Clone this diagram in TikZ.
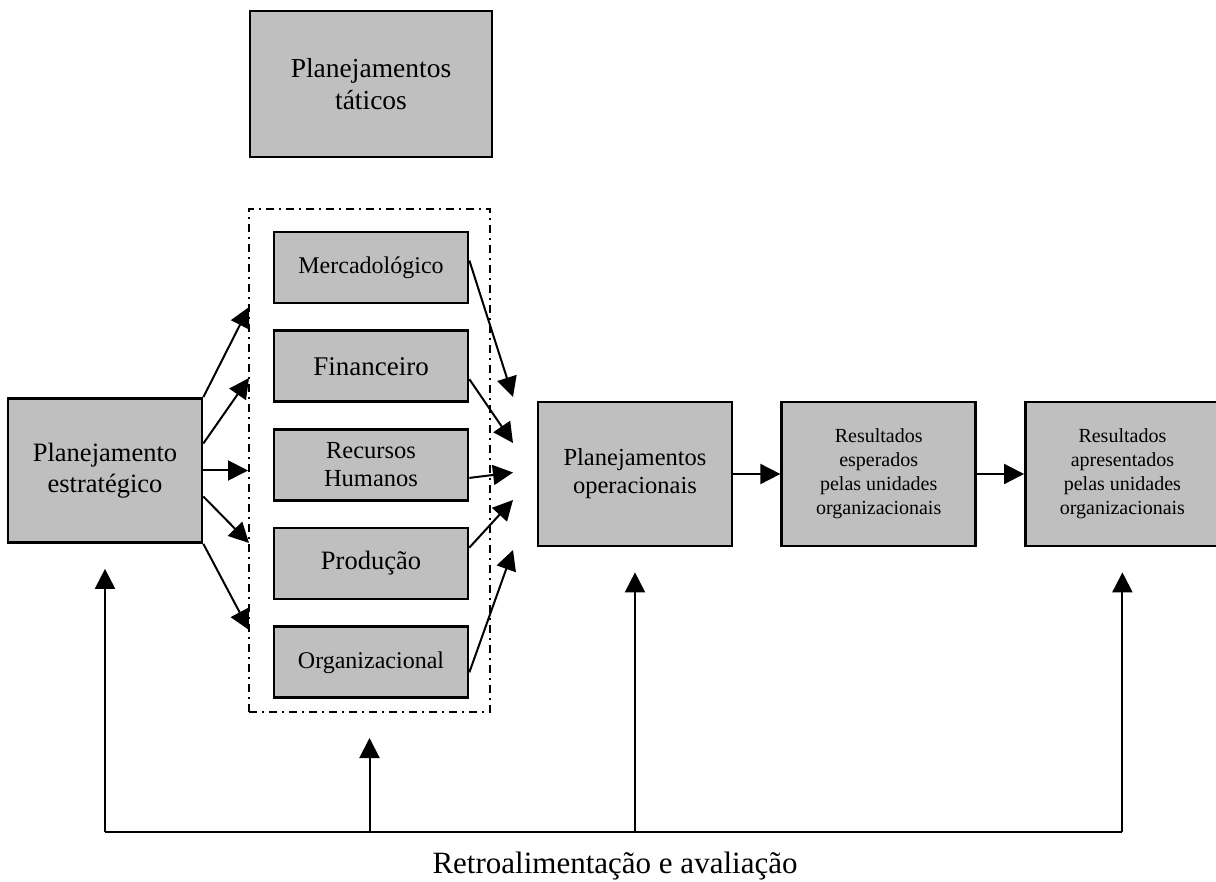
\documentclass[tikz,border=0pt]{standalone}
\usepackage{fontspec}
\setmainfont{Liberation Serif}
\usepackage{tikz}
\usetikzlibrary{positioning,arrows.meta}

\newcommand{\tattxt}{\fontsize{27.5}{32}\selectfont}
\newcommand{\esttxt}{\fontsize{26.5}{31}\selectfont}
\newcommand{\optxt}{\fontsize{24.5}{28}\selectfont}
\newcommand{\restxt}{\fontsize{20}{24}\selectfont}
\newcommand{\fbtxt}{\fontsize{31}{36}\selectfont}

\tikzset{
  greybox/.style={draw, line width=2.7pt, fill=gray!50, align=center, inner sep=0pt},
  bigbox/.style={greybox, minimum width=194pt, minimum height=144pt},
  areabox/.style={greybox, minimum width=194pt, minimum height=71pt},
  arr/.style={line width=2pt, -{Triangle[length=20pt,width=20pt]}},
  dashframe/.style={draw, line width=2pt, dash pattern=on 8pt off 5pt on 2pt off 5pt}
}

\begin{document}
\begin{tikzpicture}[x=1pt, y=-1pt, node distance=25pt]
    \useasboundingbox (0,0) rectangle (1216,882);

    % Tactical plans
    \node[greybox, minimum width=242pt, minimum height=146pt, font=\tattxt] (tat) at (371,84) {Planejamentos\\táticos};

    % Frame round the areas
    \node[dashframe, minimum width=241pt, minimum height=503pt] (grp) at (369.5,460.5) {};

    % Areas
    \node[areabox, font=\fontsize{24}{27}\selectfont] (mer) at (371,267.5) {Mercadológico};
    \node[areabox, font=\fontsize{27}{30}\selectfont, below=of mer] (fin) {Financeiro};
    \node[areabox, font=\fontsize{24.5}{28}\selectfont, below=of fin] (rh) {Recursos\\Humanos};
    \node[areabox, font=\fontsize{26.5}{30}\selectfont, below=of rh] (prod) {Produção};
    \node[areabox, font=\fontsize{24}{27}\selectfont, below=of prod] (org) {Organizacional};

    % Strategic, operational and results
    \node[bigbox, font=\esttxt] (est) at (105,470.5) {Planejamento\\estratégico};
    \node[bigbox, font=\optxt] (op) at (635,474) {Planejamentos\\operacionais};
    \node[bigbox, font=\restxt, right=47pt of op] (esp) {Resultados\\esperados\\pelas unidades\\organizacionais};
    \node[bigbox, font=\restxt, right=47pt of esp] (apr) {Resultados\\apresentados\\pelas unidades\\organizacionais};

    % Arrow ends at the frame
    \coordinate (in1) at (249,307);
    \coordinate (in2) at (249,378);
    \coordinate (in4) at (249,543);
    \coordinate (in5) at (249,630);
    \coordinate (out1) at (513,397);
    \coordinate (out2) at (513,443);
    \coordinate (out3) at (513,472.5);
    \coordinate (out4) at (513,500);
    \coordinate (out5) at (513,550);

    % Strategic to areas
    \draw[arr] (est.north east) -- (in1);
    \draw[arr] ([yshift=27pt]est.east) -- (in2);
    \draw[arr] (est.east) -- (est.east -| grp.west);
    \draw[arr] ([yshift=-26pt]est.east) -- (in4);
    \draw[arr] (est.south east) -- (in5);

    % Areas to operational
    \draw[arr] ([yshift=7pt]mer.east) -- (out1);
    \draw[arr] ([yshift=-13pt]fin.east) -- (out2);
    \draw[arr] ([yshift=-13pt]rh.east) -- (out3);
    \draw[arr] ([yshift=16pt]prod.east) -- (out4);
    \draw[arr] ([yshift=-10pt]org.east) -- (out5);

    % Chain
    \draw[arr] (op) -- (esp);
    \draw[arr] (esp) -- (apr);

    % Feedback
    \coordinate (fb) at (615,832);
    \draw[line width=2.4pt] (est.south |- fb) -- (apr.south |- fb);
    \foreach \n in {est,grp,op,apr}
      \draw[arr, shorten >=25pt] (\n.south |- fb) -- (\n.south);
    \node[font=\fbtxt, anchor=base] (fblabel) at (615,873) {Retroalimentação e avaliação};
\end{tikzpicture}
\end{document}
